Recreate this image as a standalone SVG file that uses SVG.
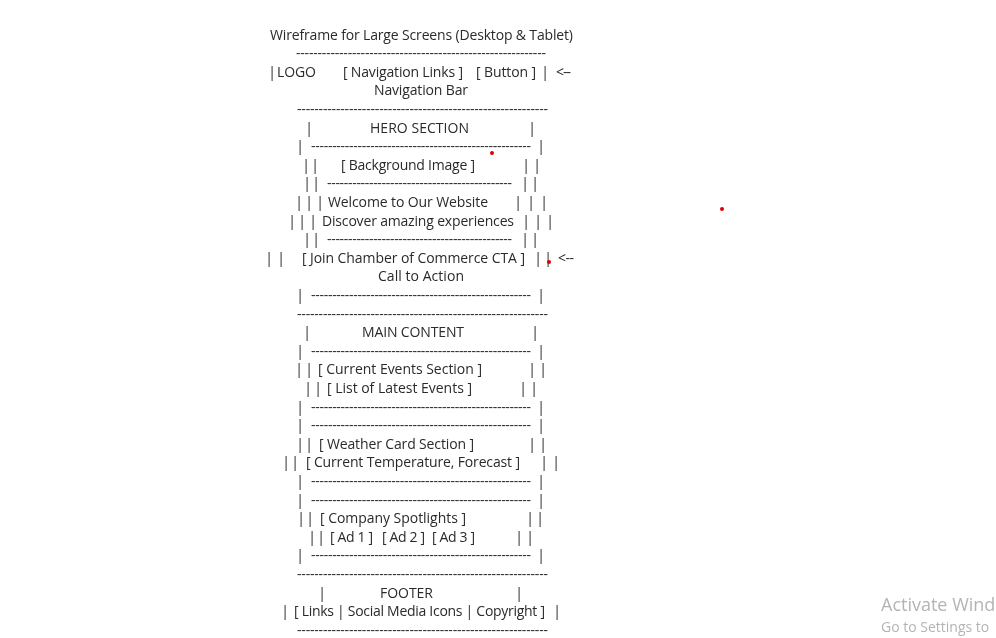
<svg xmlns="http://www.w3.org/2000/svg" width="996" height="638" viewBox="0 0 996 638">
<style>
text{font-family:"Open Sans","Liberation Sans",sans-serif;font-size:14px;fill:#2a2a2a}
.p{text-anchor:middle}
.wm{fill:#b4b4b4;font-family:"Open Sans","Liberation Sans",sans-serif}
</style>
<defs>
<filter id="gs" x="0" y="0" width="996" height="638" filterUnits="userSpaceOnUse"><feOffset dx="0" dy="0"/></filter>
</defs>
<rect width="996" height="638" fill="#fff"/>
<g filter="url(#gs)">
<g id="title"><text x="270" y="39.6" textLength="303">Wireframe for Large Screens (Desktop &amp; Tablet)</text></g>
<g id="nav">
<text x="296" y="58.2" textLength="250">----------------------------------------------------------</text>
<text class="p" x="272" y="76.8">|</text><text x="277" y="76.8" textLength="39">LOGO</text>
<text x="343" y="76.8" textLength="120">[ Navigation Links ]</text>
<text x="476" y="76.8" textLength="60">[ Button ]</text>
<text class="p" x="545" y="76.8">|</text><text x="556" y="76.8" textLength="15">&lt;--</text>
<text x="374" y="95.4" textLength="94">Navigation Bar</text>
<text x="297" y="114" textLength="251">----------------------------------------------------------</text>
</g>
<g id="hero">
<text class="p" x="309" y="132.6">|</text><text x="370" y="132.6" textLength="99">HERO SECTION</text><text class="p" x="532" y="132.6">|</text>
<text class="p" x="300" y="151.2">|</text><text x="311" y="151.2" textLength="220">----------------------------------------------------</text><text class="p" x="541" y="151.2">|</text>
<text class="p" x="306" y="169.8">|</text><text class="p" x="315" y="169.8">|</text><text x="341" y="169.8" textLength="134">[ Background Image ]</text><text class="p" x="526" y="169.8">|</text><text class="p" x="537" y="169.8">|</text>
<text class="p" x="307" y="188.4">|</text><text class="p" x="316" y="188.4">|</text><text x="327" y="188.4" textLength="185">--------------------------------------------</text><text class="p" x="525" y="188.4">|</text><text class="p" x="535" y="188.4">|</text>
<text class="p" x="299" y="207">|</text><text class="p" x="309" y="207">|</text><text class="p" x="320" y="207">|</text><text x="328" y="207" textLength="160">Welcome to Our Website</text><text class="p" x="518" y="207">|</text><text class="p" x="531" y="207">|</text><text class="p" x="544" y="207">|</text>
<text class="p" x="292" y="225.6">|</text><text class="p" x="302" y="225.6">|</text><text class="p" x="313" y="225.6">|</text><text x="322" y="225.6" textLength="192">Discover amazing experiences</text><text class="p" x="526" y="225.6">|</text><text class="p" x="538" y="225.6">|</text><text class="p" x="550" y="225.6">|</text>
<text class="p" x="307" y="244.2">|</text><text class="p" x="316" y="244.2">|</text><text x="327" y="244.2" textLength="185">--------------------------------------------</text><text class="p" x="525" y="244.2">|</text><text class="p" x="535" y="244.2">|</text>
<text class="p" x="269" y="262.8">|</text><text class="p" x="281" y="262.8">|</text><text x="302" y="262.8" textLength="223">[ Join Chamber of Commerce CTA ]</text><text class="p" x="538" y="262.8">|</text><text class="p" x="548" y="262.8">|</text><text x="558" y="262.8" textLength="16">&lt;--</text>
<text x="378" y="281.4" textLength="86">Call to Action</text>
<text class="p" x="300" y="300">|</text><text x="311" y="300" textLength="220">----------------------------------------------------</text><text class="p" x="541" y="300">|</text>
<text x="297" y="318.6" textLength="251">----------------------------------------------------------</text>
</g>
<g id="main">
<text class="p" x="307" y="337.2">|</text><text x="362" y="337.2" textLength="102">MAIN CONTENT</text><text class="p" x="535" y="337.2">|</text>
<text class="p" x="300" y="355.8">|</text><text x="311" y="355.8" textLength="220">----------------------------------------------------</text><text class="p" x="541" y="355.8">|</text>
<text class="p" x="299" y="374.4">|</text><text class="p" x="309" y="374.4">|</text><text x="318" y="374.4" textLength="164">[ Current Events Section ]</text><text class="p" x="532" y="374.4">|</text><text class="p" x="543" y="374.4">|</text>
<text class="p" x="308" y="393">|</text><text class="p" x="318" y="393">|</text><text x="327" y="393" textLength="145">[ List of Latest Events ]</text><text class="p" x="523" y="393">|</text><text class="p" x="534" y="393">|</text>
<text class="p" x="300" y="411.6">|</text><text x="311" y="411.6" textLength="220">----------------------------------------------------</text><text class="p" x="541" y="411.6">|</text>
<text class="p" x="300" y="430.2">|</text><text x="311" y="430.2" textLength="220">----------------------------------------------------</text><text class="p" x="541" y="430.2">|</text>
<text class="p" x="300" y="448.8">|</text><text class="p" x="309" y="448.8">|</text><text x="319" y="448.8" textLength="155">[ Weather Card Section ]</text><text class="p" x="532" y="448.8">|</text><text class="p" x="543" y="448.8">|</text>
<text class="p" x="286" y="467.4">|</text><text class="p" x="295" y="467.4">|</text><text x="306" y="467.4" textLength="214">[ Current Temperature, Forecast ]</text><text class="p" x="544" y="467.4">|</text><text class="p" x="556" y="467.4">|</text>
<text class="p" x="300" y="486">|</text><text x="311" y="486" textLength="220">----------------------------------------------------</text><text class="p" x="541" y="486">|</text>
<text class="p" x="300" y="504.6">|</text><text x="311" y="504.6" textLength="220">----------------------------------------------------</text><text class="p" x="541" y="504.6">|</text>
<text class="p" x="301" y="523.2">|</text><text class="p" x="310" y="523.2">|</text><text x="320" y="523.2" textLength="146">[ Company Spotlights ]</text><text class="p" x="530" y="523.2">|</text><text class="p" x="540" y="523.2">|</text>
<text class="p" x="312" y="541.8">|</text><text class="p" x="321" y="541.8">|</text><text x="330" y="541.8" textLength="43">[ Ad 1 ]</text><text x="382" y="541.8" textLength="43">[ Ad 2 ]</text><text x="432" y="541.8" textLength="43">[ Ad 3 ]</text><text class="p" x="519" y="541.8">|</text><text class="p" x="530" y="541.8">|</text>
<text class="p" x="300" y="560.4">|</text><text x="311" y="560.4" textLength="220">----------------------------------------------------</text><text class="p" x="541" y="560.4">|</text>
<text x="297" y="579" textLength="251">----------------------------------------------------------</text>
</g>
<g id="footer">
<text class="p" x="322" y="597.6">|</text><text x="380" y="597.6" textLength="53">FOOTER</text><text class="p" x="519" y="597.6">|</text>
<text class="p" x="285" y="616.2">|</text><text x="294" y="616.2" textLength="251">[ Links | Social Media Icons | Copyright ]</text><text class="p" x="557" y="616.2">|</text>
<text x="297" y="634.8" textLength="251">----------------------------------------------------------</text>
</g>
<g id="watermark">
<text class="wm" x="881" y="611" style="font-size:18px">Activate Windows</text>
<text class="wm" x="881" y="632" style="font-size:14px">Go to Settings to</text>
</g>
</g>
<g id="marks" fill="#e00000">
<circle cx="492" cy="153" r="2"/><circle cx="722" cy="209" r="2"/><circle cx="549" cy="262" r="2"/>
</g>
</svg>
